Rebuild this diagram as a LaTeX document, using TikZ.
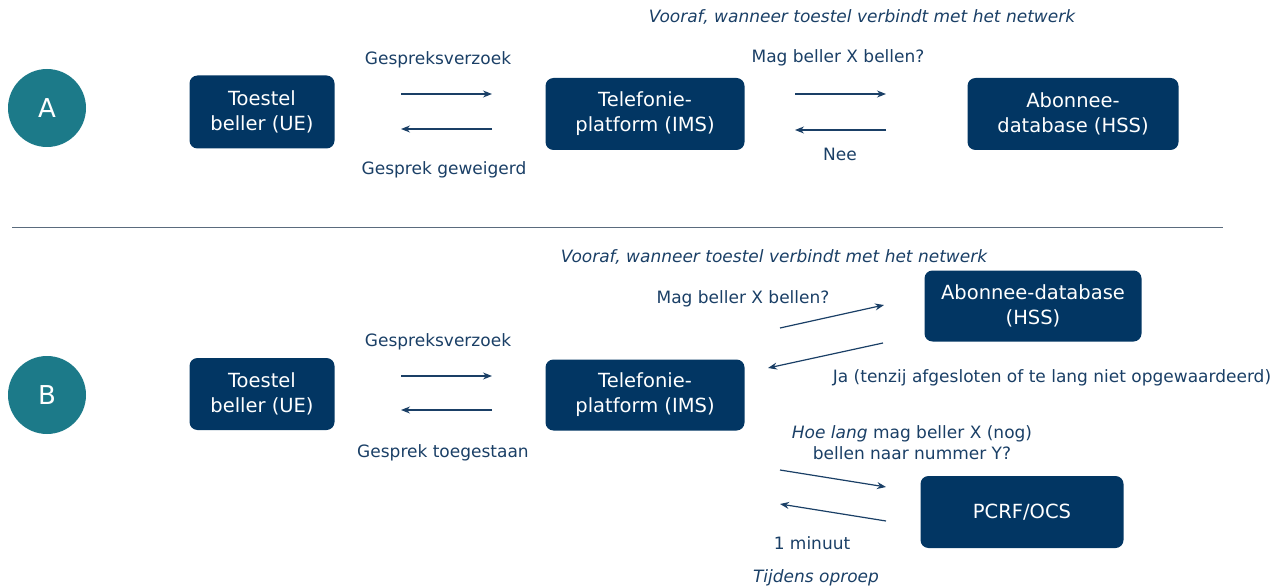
\documentclass[tikz,border=0pt]{standalone}
\usepackage{fontspec}
\setmainfont{DejaVu Sans}
\usetikzlibrary{arrows.meta}
\definecolor{boxblue}{HTML}{023663}
\definecolor{teal}{HTML}{1C7A89}
\definecolor{txt}{HTML}{1A3F66}
\definecolor{rule}{HTML}{5A6B7D}
\tikzset{
  box/.style={draw=none, fill=boxblue, rounded corners=8pt, text=white, align=center, font=\fontsize{19.5}{25}\selectfont, inner sep=0pt},
  badge/.style={circle, fill=teal, text=white, minimum size=78pt, inner sep=0pt, font=\fontsize{26}{30}\selectfont},
  lbl/.style={text=txt, align=center, font=\fontsize{17}{21}\selectfont, inner sep=0pt},
  ilbl/.style={lbl, font=\fontsize{17}{21}\selectfont\itshape},
  msg/.style={draw=txt, line width=1.2pt, -{Stealth[length=9pt,width=7pt]}},
}
\begin{document}
\begin{tikzpicture}[x=1pt,y=-1pt]
\useasboundingbox (0,0) rectangle (1288,588);
% ---------- A ----------
\node[badge] (cA) at (47,108) {A};
\node[box, minimum width=145pt, minimum height=73pt] (ueA) at (262,112) {Toestel\\beller (UE)};
\node[box, minimum width=199pt, minimum height=72pt] (imsA) at (645,114) {Telefonie-\\platform (IMS)};
\node[box, minimum width=211pt, minimum height=72pt] (hssA) at (1073,114) {Abonnee-\\database (HSS)};
\node[ilbl] (vA) at (862,17) {Vooraf, wanneer toestel verbindt met het netwerk};
\node[lbl] (l1) at (438,60) {Gespreksverzoek};
\node[lbl] (l2) at (444,170) {Gesprek geweigerd};
\node[lbl] (l3) at (838,58) {Mag beller X bellen?};
\node[lbl] (l4) at (840,154) {Nee};
\coordinate (a1s) at (401,94); \coordinate (a1e) at (492,94);
\coordinate (a2s) at (492,129); \coordinate (a2e) at (401,129);
\coordinate (a3s) at (795,94); \coordinate (a3e) at (886,94);
\coordinate (a4s) at (886,130); \coordinate (a4e) at (795,130);
\draw[msg] (a1s) -- (a1e);
\draw[msg] (a2s) -- (a2e);
\draw[msg] (a3s) -- (a3e);
\draw[msg] (a4s) -- (a4e);
% divider
\coordinate (d1) at (12,227); \coordinate (d2) at (1223,227);
\draw[rule, line width=0.8pt] (d1) -- (d2);
% ---------- B ----------
\node[badge] (cB) at (47,395) {B};
\node[box, minimum width=145pt, minimum height=72pt] (ueB) at (262,394) {Toestel\\beller (UE)};
\node[box, minimum width=199pt, minimum height=71pt] (imsB) at (645,395) {Telefonie-\\platform (IMS)};
\node[box, minimum width=217pt, minimum height=71pt] (hssB) at (1033,306) {Abonnee-database\\(HSS)};
\node[box, minimum width=203pt, minimum height=72pt] (pcrf) at (1022,512) {PCRF/OCS};
\node[ilbl] (vB) at (774,257) {Vooraf, wanneer toestel verbindt met het netwerk};
\node[lbl] (m1) at (438,342) {Gespreksverzoek};
\node[lbl] (m2) at (443,453) {Gesprek toegestaan};
\node[lbl] (m3) at (743,299) {Mag beller X bellen?};
\node[lbl] (m4) at (1052,378) {Ja (tenzij afgesloten of te lang niet opgewaardeerd)};
\node[lbl] (m5) at (912,443) {\textit{Hoe lang} mag beller X (nog)\\bellen naar nummer Y?};
\node[lbl] (m6) at (812,543) {1 minuut};
\node[ilbl] (m7) at (816,578) {Tijdens oproep};
\coordinate (b1s) at (401,376); \coordinate (b1e) at (492,376);
\coordinate (b2s) at (492,410); \coordinate (b2e) at (401,410);
\coordinate (b3s) at (780,328); \coordinate (b3e) at (884,305);
\coordinate (b4s) at (883,343); \coordinate (b4e) at (768,368);
\coordinate (b5s) at (780,470); \coordinate (b5e) at (886,487);
\coordinate (b6s) at (886,521); \coordinate (b6e) at (780,504);
\draw[msg] (b1s) -- (b1e);
\draw[msg] (b2s) -- (b2e);
\draw[msg] (b3s) -- (b3e);
\draw[msg] (b4s) -- (b4e);
\draw[msg] (b5s) -- (b5e);
\draw[msg] (b6s) -- (b6e);
\end{tikzpicture}
\end{document}
